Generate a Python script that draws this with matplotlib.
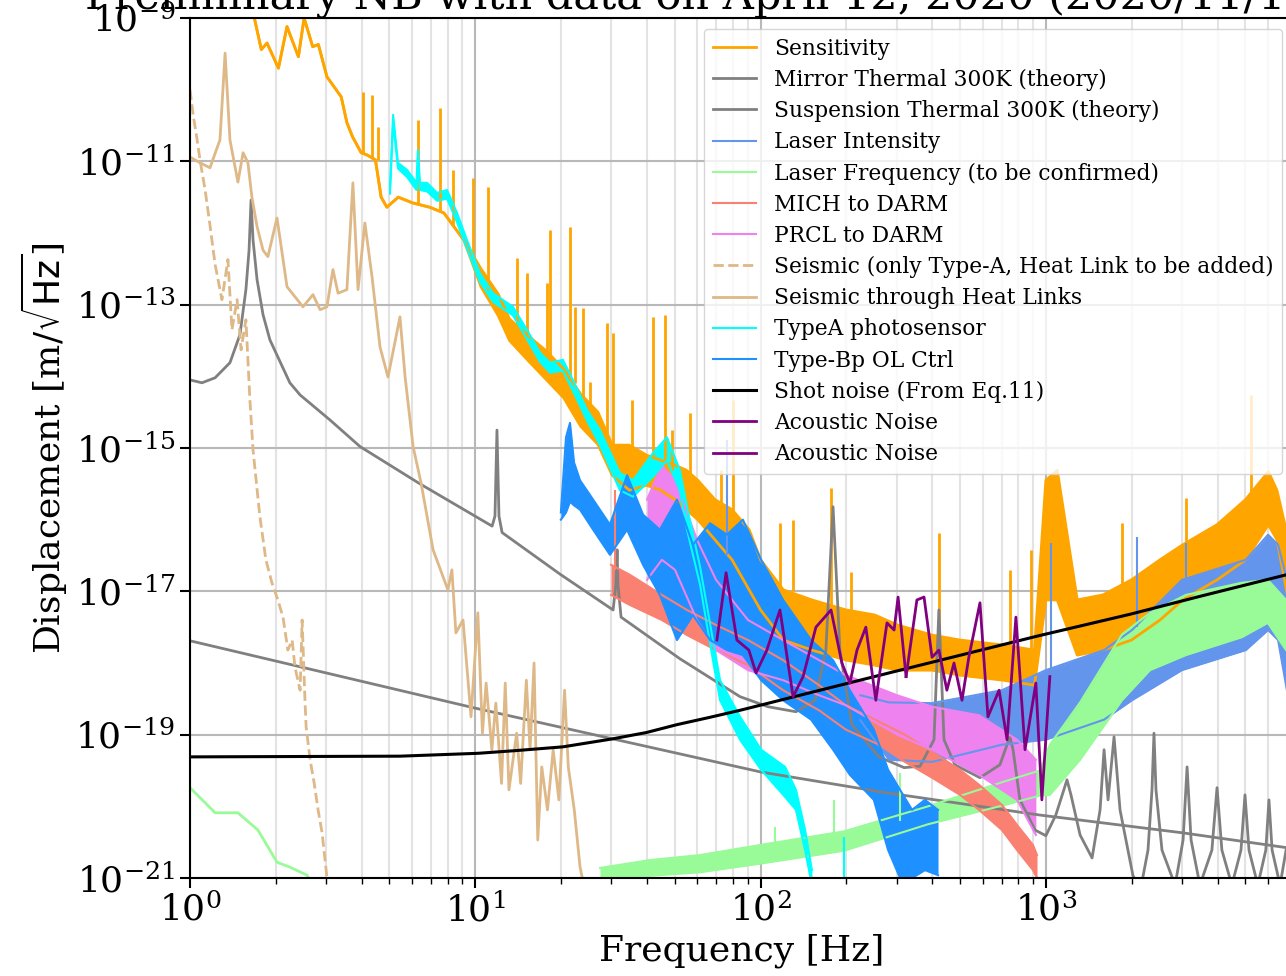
import numpy as np
import matplotlib
matplotlib.use('Agg')
import matplotlib.pyplot as plt

# all values: log10(frequency / Hz), log10(displacement / m/rtHz)

# Sensitivity (first 23 points thin line, then band)
sens_logf = [0.22, 0.25, 0.27, 0.31, 0.34, 0.38, 0.40, 0.43, 0.45, 0.48,
             0.53, 0.55, 0.57, 0.60, 0.62, 0.65, 0.67, 0.69, 0.73, 0.78,
             0.84, 0.89, 0.96,
             1.02, 1.08, 1.12, 1.19, 1.25, 1.31, 1.37, 1.43,
             1.48, 1.54, 1.60, 1.65, 1.70, 1.74, 1.78, 1.84, 1.90, 1.96,
             2.00, 2.08, 2.18, 2.30, 2.40, 2.48, 2.60, 2.70, 2.85, 2.96,
             3.00, 3.04, 3.11, 3.20, 3.30, 3.40, 3.48, 3.60, 3.70, 3.78, 3.81, 3.85]
sens_hi = [-8.9, -9.44, -9.35, -9.70, -9.12, -9.54, -9.0, -9.40, -9.37, -9.82,
           -10.10, -10.46, -10.66, -10.88, -10.91, -10.98, -11.50, -11.64, -11.50, -11.58,
           -11.64, -11.72, -12.10,
           -12.50, -12.85, -13.20, -13.45, -13.65, -13.90, -14.25, -14.50,
           -14.96, -14.96, -15.10, -15.17, -15.24, -15.31, -15.45, -15.72, -15.86, -16.14,
           -16.56, -16.98, -17.12, -17.26, -17.33, -17.47, -17.61, -17.68, -17.75, -17.82,
           -15.45, -15.31, -17.12, -17.05, -16.84, -16.56, -16.35, -16.07, -15.72, -15.33, -15.59, -16.28]
sens_lo_band = [-12.75, -13.15, -13.50, -13.80, -14.05, -14.30, -14.70, -14.95,
                -15.38, -15.59, -15.52, -15.59, -15.72, -15.86, -16.00, -16.28, -16.56, -16.98,
                -17.26, -17.68, -17.82, -17.96, -18.03, -18.10, -18.10, -18.17, -18.24, -18.31,
                -17.12, -17.12, -17.89, -17.82, -17.68, -17.40, -17.12, -16.84, -16.56, -16.07, -16.28, -17.12]
sens_spk_f = [0.606, 0.638, 0.659, 0.799, 0.876, 0.922, 0.992, 1.045, 1.146, 1.181, 1.251, 1.262,
              1.332, 1.349, 1.377, 1.402, 1.462, 1.483, 1.55, 1.623, 1.665, 1.69, 1.753, 1.86, 1.903,
              2.068, 2.114, 2.247, 2.317, 2.625, 2.874, 2.948, 3.267, 3.491, 3.719]
sens_spk_base = [-10.88, -10.95, -10.98, -11.60, -11.70, -11.9, -12.3, -12.8, -13.3, -13.4, -13.7, -13.7,
                 -14.0, -14.1, -14.3, -14.5, -14.9, -15.0, -15.0, -15.1, -15.2, -15.3, -15.4, -15.8, -15.9,
                 -17.0, -17.0, -17.2, -17.3, -17.6, -17.8, -17.8, -17.1, -16.4, -15.8]
sens_spk_top = [-10.03, -10.07, -10.52, -10.42, -10.25, -11.12, -11.23, -11.36, -12.35, -12.56, -12.70, -11.96,
                -11.91, -13.03, -13.04, -14.08, -13.25, -13.39, -14.33, -13.17, -13.14, -14.75, -14.51, -15.31, -14.33,
                -16.05, -16.00, -15.56, -16.73, -16.19, -16.70, -16.42, -16.05, -15.70, -14.26]

# Mirror thermal 300K (theory)
mirror_logf = [0.0, 1.0, 2.0, 2.44, 2.976, 3.48, 3.85]
mirror_v = [-17.69, -18.63, -19.52, -19.81, -20.12, -20.37, -20.58]

# Suspension thermal 300K (theory)
susp_logf = [0.0, 0.042, 0.088, 0.140, 0.175, 0.196, 0.207, 0.214, 0.221, 0.235, 0.256, 0.280,
             0.350, 0.386, 0.491, 0.596, 0.806, 1.059, 1.069, 1.076, 1.083, 1.094, 1.297, 1.483, 1.493,
             1.497, 1.500, 1.511, 1.717, 1.928, 2.026, 2.124, 2.191, 2.229, 2.254, 2.278, 2.320,
             2.415, 2.503, 2.559, 2.608, 2.625, 2.643, 2.681, 2.769, 2.839, 2.864, 2.874, 2.885,
             2.909, 2.962, 3.000, 3.035, 3.063, 3.074, 3.088, 3.120, 3.162, 3.190, 3.204, 3.218,
             3.239, 3.260, 3.305, 3.330, 3.358, 3.372, 3.379, 3.386, 3.407, 3.453, 3.481, 3.495,
             3.509, 3.540, 3.582, 3.600, 3.617, 3.652, 3.684, 3.698, 3.712, 3.743, 3.771, 3.782,
             3.793, 3.821, 3.842]
susp_v = [-14.05, -14.09, -14.02, -13.81, -13.42, -12.79, -12.24, -11.54, -12.10, -12.65, -13.14, -13.49,
          -14.09, -14.26, -14.61, -14.98, -15.50, -16.09, -15.95, -14.75, -15.95, -16.18, -16.76, -17.26, -16.90,
          -16.42, -16.90, -17.36, -17.94, -18.47, -18.61, -18.68, -18.52, -17.82, -15.82, -17.82, -18.86,
          -19.31, -19.46, -19.44, -19.07, -17.26, -19.07, -19.42, -19.60, -19.42, -19.14, -19.03, -19.21,
          -19.91, -20.33, -20.41, -20.12, -19.77, -19.63, -19.84, -20.40, -20.72, -20.05, -19.21, -19.91,
          -19.03, -20.05, -20.96, -21.2, -20.61, -19.77, -18.98, -19.77, -20.61, -21.1, -20.47, -19.45,
          -20.47, -21.1, -20.61, -19.74, -20.61, -21.1, -20.61, -19.84, -20.61, -21.1, -20.61, -19.91,
          -20.61, -21.1, -20.61]

# Laser intensity
lint_logf = [2.35, 2.45, 2.601, 2.846, 3.000, 3.204, 3.302, 3.477, 3.701, 3.779, 3.814, 3.845]
lint_hi = [-18.45, -18.55, -18.56, -18.38, -18.10, -17.82, -17.54, -16.84, -16.56, -16.21, -16.35, -16.84]
lint_lo = [-18.80, -19.35, -19.38, -19.14, -19.07, -18.79, -18.52, -18.10, -17.82, -17.54, -17.68, -18.38]
lint_spk_f = [1.882, 3.018, 3.319, 3.491]
lint_spk_base = [-16.5, -18.1, -17.5, -16.9]
lint_spk_top = [-14.89, -16.32, -16.24, -16.32]

# Laser frequency (to be confirmed): low-frequency line and high-frequency band
lfreq_low_logf = [0.0, 0.088, 0.168, 0.238, 0.305, 0.351, 0.410, 0.43]
lfreq_low_v = [-19.74, -20.09, -20.09, -20.33, -20.78, -20.85, -20.96, -21.1]
lfreq_logf = [1.437, 1.612, 1.788, 1.998, 2.292, 2.587, 2.857, 2.979, 3.014, 3.120, 3.267, 3.365, 3.491, 3.687, 3.778, 3.842]
lfreq_hi = [-20.86, -20.75, -20.68, -20.54, -20.35, -20.00, -19.65, -19.50, -19.14, -18.55, -17.60, -17.30, -17.05, -16.88, -16.84, -17.12]
lfreq_lo = [-21.1, -20.97, -20.92, -20.80, -20.62, -20.25, -19.98, -19.85, -19.84, -19.35, -18.52, -18.10, -17.89, -17.64, -17.44, -17.82]
lfreq_spk_f = [2.050, 2.257, 2.489]
lfreq_spk_base = [-20.7, -20.55, -20.2]
lfreq_spk_top = [-20.29, -19.91, -19.53]

# MICH to DARM
mich_logf = [1.476, 1.542, 1.654, 1.742, 1.844, 1.956, 2.079, 2.205, 2.299, 2.415, 2.506, 2.601, 2.699, 2.766, 2.846, 2.899, 2.955, 2.969]
mich_hi = [-16.63, -16.77, -17.05, -17.26, -17.47, -17.68, -17.96, -18.31, -18.59, -18.82, -19.00, -19.24, -19.49, -19.70, -19.98, -20.26, -20.54, -20.68]
mich_lo = [-17.05, -17.19, -17.40, -17.61, -17.82, -18.03, -18.38, -18.66, -18.93, -19.14, -19.38, -19.60, -19.84, -20.05, -20.33, -20.61, -20.89, -21.0]
mich_spk_f = [1.490]
mich_spk_base = [-16.7]
mich_spk_top = [-15.58]

# PRCL to DARM
prcl_logf = [1.602, 1.654, 1.700, 1.777, 1.844, 1.956, 2.079, 2.205, 2.299, 2.478, 2.601, 2.766, 2.899, 2.965]
prcl_hi = [-15.72, -15.24, -15.45, -16.28, -16.84, -17.40, -17.68, -17.96, -18.17, -18.45, -18.61, -18.73, -19.07, -19.35]
prcl_lo = [-16.84, -16.56, -16.70, -17.40, -17.82, -18.10, -18.24, -18.45, -18.59, -19.00, -19.21, -19.56, -19.91, -20.40]

# Seismic (only Type-A)
seis_logf = [0.0, 0.011, 0.025, 0.035, 0.053, 0.070, 0.088, 0.112, 0.133, 0.147, 0.165, 0.179, 0.196,
             0.210, 0.221, 0.245, 0.266, 0.287, 0.308, 0.326, 0.343, 0.358, 0.368, 0.386, 0.393, 0.403,
             0.407, 0.421, 0.435, 0.449, 0.463, 0.480, 0.487]
seis_v = [-10.0, -10.35, -10.70, -10.98, -11.40, -11.89, -12.44, -12.93, -12.37, -13.35, -12.93, -13.63, -13.21,
          -14.33, -15.03, -15.96, -16.56, -16.88, -17.12, -17.36, -17.82, -17.68, -18.06, -18.38, -17.40, -18.52,
          -18.89, -19.35, -19.67, -20.05, -20.37, -20.99, -21.2]

# Seismic through heat links
shl_logf = [0.0, 0.035, 0.070, 0.105, 0.123, 0.140, 0.168, 0.186, 0.203, 0.217, 0.235, 0.256, 0.273, 0.305,
            0.340, 0.396, 0.431, 0.456, 0.480, 0.501, 0.519, 0.550, 0.571, 0.589, 0.613, 0.638, 0.666,
            0.694, 0.736, 0.754, 0.782, 0.810, 0.852, 0.904, 0.918, 0.932, 0.957, 0.985, 1.009,
            1.025, 1.038, 1.058, 1.072, 1.092, 1.105, 1.118, 1.145, 1.159, 1.179, 1.192, 1.206, 1.219,
            1.233, 1.253, 1.273, 1.293, 1.313, 1.326, 1.347, 1.367, 1.385]
shl_v = [-10.94, -11.02, -11.09, -10.70, -9.49, -10.70, -11.29, -10.88, -11.02, -11.50, -11.91, -12.24, -12.33, -11.79,
         -12.75, -13.03, -12.86, -13.07, -13.03, -12.51, -12.84, -12.79, -11.30, -12.79, -11.86, -12.61, -13.59,
         -14.01, -13.17, -14.01, -14.98, -15.49, -16.42, -16.98, -16.70, -17.58, -17.40, -18.75, -17.30,
         -18.98, -18.28, -19.21, -18.56, -19.68, -18.28, -19.77, -18.98, -19.68, -18.24, -19.21, -18.00, -20.47,
         -19.45, -20.05, -19.21, -19.91, -18.38, -19.45, -20.05, -20.84, -21.2]

# TypeA photosensor
typea_logf = [0.701, 0.712, 0.729, 0.761, 0.794, 0.799, 0.806, 0.831, 0.866, 0.901, 0.936, 0.971, 1.016,
              1.062, 1.132, 1.181, 1.227, 1.262, 1.307, 1.342, 1.392,
              1.437, 1.507, 1.553, 1.623, 1.672, 1.717, 1.742, 1.788, 1.833, 1.858, 1.928, 2.002, 2.086,
              2.124, 2.156, 2.180]
typea_hi = [-11.36, -10.35, -11.02, -11.12, -11.30, -10.84, -11.30, -11.30, -11.44, -11.40, -11.72, -12.10, -12.56,
            -12.84, -13.03, -13.35, -13.67, -13.81, -13.77, -14.05, -14.47,
            -14.75, -15.35, -15.45, -15.07, -14.85, -15.31, -15.82, -16.66, -17.68, -18.24, -18.75, -19.21, -19.45,
            -19.77, -20.33, -20.89]
typea_lo = [-11.45, -10.45, -11.10, -11.22, -11.40, -10.95, -11.40, -11.42, -11.55, -11.52, -11.85, -12.22, -12.68,
            -12.96, -13.15, -13.48, -13.80, -13.95, -13.92, -14.20, -14.62,
            -14.96, -15.59, -15.68, -15.40, -15.17, -15.59, -16.14, -16.91, -17.96, -18.52, -19.07, -19.49, -19.87,
            -20.05, -20.61, -21.1]
typea_spk_f = [2.292]
typea_spk_base = [-21.1]
typea_spk_top = [-20.43]

# Type-Bp OL Ctrl
typebp_logf = [1.300, 1.318, 1.332, 1.346, 1.367, 1.413, 1.472, 1.532, 1.588, 1.647, 1.707, 1.763, 1.823,
               1.882, 1.938, 2.002, 2.079, 2.177, 2.254, 2.313, 2.397, 2.447, 2.489, 2.531, 2.576, 2.622]
typebp_hi = [-15.9, -14.85, -14.65, -15.2, -15.45, -15.72, -16.07, -15.38, -15.93, -16.14, -15.72, -16.35, -16.05,
             -16.21, -16.00, -16.56, -17.12, -17.68, -17.96, -18.38, -18.93, -19.49, -19.77, -20.05, -19.91, -20.05]
typebp_lo = [-16.0, -15.9, -15.75, -15.8, -15.86, -16.14, -16.49, -16.14, -16.63, -17.05, -17.68, -17.33, -17.68,
             -17.82, -17.89, -18.24, -18.52, -18.79, -19.21, -19.56, -19.91, -20.61, -21.0, -21.0, -20.89, -20.96]

# Shot noise (From Eq.11)
shot_logf = [0.0, 0.736, 1.01, 1.15, 1.307, 1.479, 1.60, 1.707, 1.82, 1.928, 2.138, 2.489, 2.975, 3.295, 3.540, 3.842]
shot_v = [-19.31, -19.30, -19.26, -19.22, -19.17, -19.06, -18.97, -18.86, -18.76, -18.66, -18.45, -18.10, -17.62,
          -17.32, -17.07, -16.77]

# Acoustic noise (two traces)
ac1_logf = [1.847, 1.879, 1.917, 1.959, 1.984, 2.022, 2.068, 2.114, 2.149, 2.194, 2.247, 2.285, 2.313,
            2.338, 2.369, 2.404, 2.443, 2.468, 2.482, 2.510]
ac1_v = [-17.68, -16.74, -17.68, -17.82, -18.14, -17.82, -17.26, -18.47, -18.19, -17.50, -17.26, -18.00, -18.28,
         -17.82, -17.50, -18.52, -17.44, -17.54, -17.08, -18.19]
ac2_logf = [2.510, 2.548, 2.573, 2.601, 2.625, 2.653, 2.678, 2.706, 2.730, 2.769, 2.797, 2.836, 2.864,
            2.895, 2.927, 2.965, 2.986, 3.014]
ac2_v = [-18.19, -17.12, -17.08, -17.92, -17.82, -18.38, -18.00, -18.52, -17.92, -17.16, -18.75, -18.38, -19.07,
         -17.36, -19.21, -18.28, -19.91, -18.19]


def p(v):
    return 10.0 ** np.array(v)


def band(ax, logf, hi, lo, color, label, lw=1.5):
    f = p(logf)
    ax.fill_between(f, p(lo), p(hi), color=color, lw=0)
    ax.plot(f, p(lo), color=color, lw=lw)
    line, = ax.plot(f, p(hi), color=color, lw=lw, label=label)
    return line


def spikes(ax, logf, base, top, color, lw=1.5):
    ax.vlines(p(logf), p(base), p(top), color=color, lw=lw)


plt.rcParams['font.family'] = 'DejaVu Serif'

fig = plt.figure(figsize=(12.86, 9.76), dpi=100)
ax = fig.add_axes([190 / 1286, 98 / 976, 1103 / 1286, 860 / 976])
ax.set_xscale('log')
ax.set_yscale('log')

band(ax, sens_logf, sens_hi, sens_hi[:23] + sens_lo_band, 'orange', 'Sensitivity', lw=2)
spikes(ax, sens_spk_f, sens_spk_base, sens_spk_top, 'orange', lw=2)
ax.plot(p(mirror_logf), p(mirror_v), color='grey', lw=2, label='Mirror Thermal 300K (theory)')
ax.plot(p(susp_logf), p(susp_v), color='grey', lw=2, label='Suspension Thermal 300K (theory)')
band(ax, lint_logf, lint_hi, lint_lo, 'cornflowerblue', 'Laser Intensity')
spikes(ax, lint_spk_f, lint_spk_base, lint_spk_top, 'cornflowerblue')
ax.plot(p(lfreq_low_logf), p(lfreq_low_v), color='palegreen', lw=2)
band(ax, lfreq_logf, lfreq_hi, lfreq_lo, 'palegreen', 'Laser Frequency (to be confirmed)')
spikes(ax, lfreq_spk_f, lfreq_spk_base, lfreq_spk_top, 'palegreen')
band(ax, mich_logf, mich_hi, mich_lo, 'salmon', 'MICH to DARM')
spikes(ax, mich_spk_f, mich_spk_base, mich_spk_top, 'salmon')
band(ax, prcl_logf, prcl_hi, prcl_lo, 'violet', 'PRCL to DARM')
ax.plot(p(seis_logf), p(seis_v), color='burlywood', lw=2, ls='--',
        label='Seismic (only Type-A, Heat Link to be added)')
ax.plot(p(shl_logf), p(shl_v), color='burlywood', lw=2, label='Seismic through Heat Links')
band(ax, typea_logf, typea_hi, typea_lo, 'aqua', 'TypeA photosensor')
spikes(ax, typea_spk_f, typea_spk_base, typea_spk_top, 'aqua')
band(ax, typebp_logf, typebp_hi, typebp_lo, 'dodgerblue', 'Type-Bp OL Ctrl')
ax.plot(p(shot_logf), p(shot_v), color='black', lw=2.2, label='Shot noise (From Eq.11)')
ax.plot(p(ac1_logf), p(ac1_v), color='purple', lw=2, label='Acoustic Noise')
ax.plot(p(ac2_logf), p(ac2_v), color='purple', lw=2, label='Acoustic Noise')

ax.set_xlim(1, 7350)
ax.set_ylim(1e-21, 1e-9)
ax.set_yticks([1e-21, 1e-19, 1e-17, 1e-15, 1e-13, 1e-11, 1e-9])
ax.yaxis.set_minor_locator(matplotlib.ticker.NullLocator())
ax.grid(True, which='major', color='#b8b8b8', lw=1.5)
ax.grid(True, which='minor', axis='x', color='#e3e3e3', lw=1.5)
ax.set_axisbelow(True)
for s in ax.spines.values():
    s.set_linewidth(1.5)
ax.tick_params(which='major', labelsize=26, length=7, width=1.5)
ax.tick_params(which='minor', length=4, width=1)

ax.set_xlabel('Frequency [Hz]', fontsize=26)
ax.set_ylabel(r'Displacement [m/$\sqrt{\rm Hz}$]', fontsize=26)
fig.text(85 / 1286, 1 - 9 / 976, 'Preliminary NB with data on April 12, 2020 (2020/11/16)',
         fontsize=31, ha='left', va='baseline')
ax.legend(loc='upper right', fontsize=15.7, labelspacing=0.42)

fig.savefig('out.png', dpi=100)
